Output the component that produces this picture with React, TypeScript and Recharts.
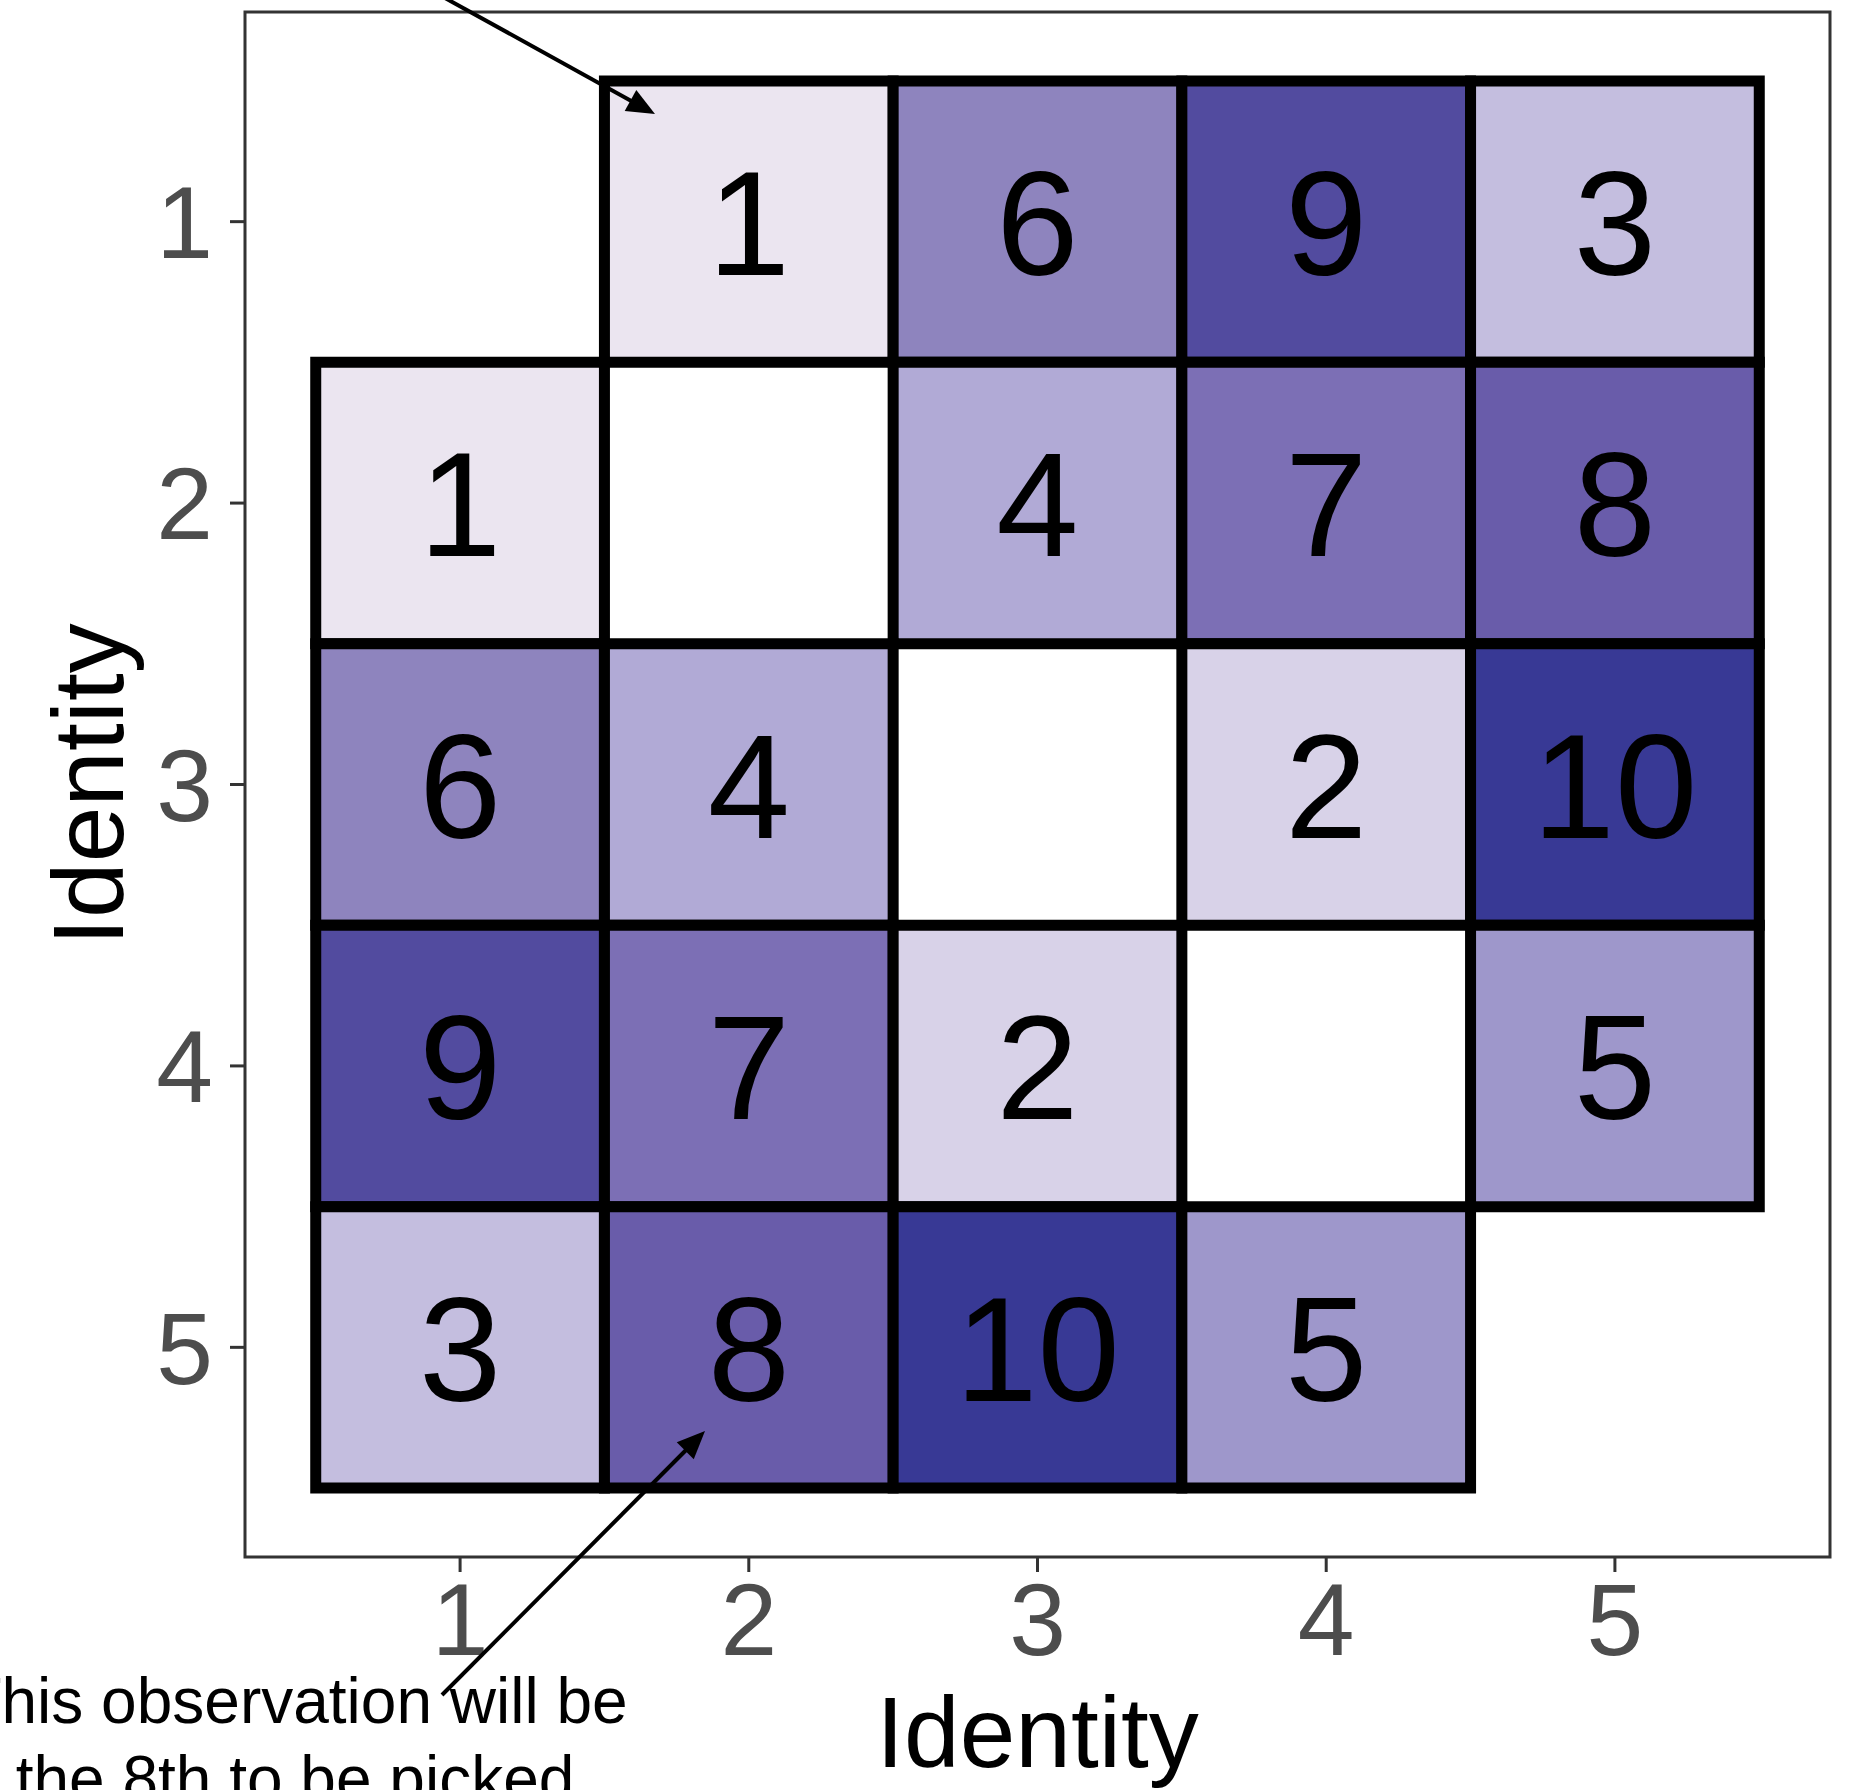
import { type FC } from "react";
import {
  ScatterChart,
  XAxis,
  YAxis,
  Scatter,
  ReferenceArea,
} from "recharts";

// identities on both axes
const identities = [1, 2, 3, 4, 5];

// pair values, one array per row (y = identity), null on the diagonal
const row1 = [null, 1, 6, 9, 3];
const row2 = [1, null, 4, 7, 8];
const row3 = [6, 4, null, 2, 10];
const row4 = [9, 7, 2, null, 5];
const row5 = [3, 8, 10, 5, null];
const rows = [row1, row2, row3, row4, row5];

// fill for values 1..10
const purples = [
  "#EBE5F0",
  "#D8D2E8",
  "#C4BEDF",
  "#B1AAD6",
  "#9E97CB",
  "#8E84BE",
  "#7C6FB5",
  "#695CAA",
  "#524B9F",
  "#383995",
];

const cells = rows.flatMap((row, i) =>
  row
    .map((v, j) => ({ x: identities[j], y: identities[i], v }))
    .filter((c) => c.v !== null)
) as { x: number; y: number; v: number }[];

const W = 1850;
const H = 1790;
const lo = 0.255;
const hi = 5.745;
const font = '"Liberation Sans", Arial, Helvetica, sans-serif';

const Arrow: FC<{ from: [number, number]; to: [number, number] }> = ({
  from,
  to,
}) => {
  const dx = to[0] - from[0];
  const dy = to[1] - from[1];
  const len = Math.hypot(dx, dy);
  const ux = dx / len;
  const uy = dy / len;
  const L = 28;
  const hw = 12;
  const bx = to[0] - ux * L;
  const by = to[1] - uy * L;
  const pts = [
    [to[0], to[1]],
    [bx - uy * hw, by + ux * hw],
    [bx + uy * hw, by - ux * hw],
  ]
    .map((p) => p.join(","))
    .join(" ");
  return (
    <g>
      <line
        x1={from[0]}
        y1={from[1]}
        x2={bx + ux * 4}
        y2={by + uy * 4}
        stroke="#000"
        strokeWidth={4}
      />
      <polygon points={pts} fill="#000" />
    </g>
  );
};

const CellLabel = (props: any) => (
  <text
    x={props.cx}
    y={props.cy}
    dy="0.36em"
    textAnchor="middle"
    fontSize={148}
    fontFamily={font}
    fill="#000"
  >
    {props.payload.v}
  </text>
);

export default function App() {
  return (
    <div
      style={{
        position: "absolute",
        left: 0,
        top: 0,
        width: W,
        height: H,
        background: "#fff",
        fontFamily: font,
      }}
    >
      <ScatterChart
        width={W}
        height={H}
        margin={{ top: 12, right: 20, bottom: 0, left: 0 }}
      >
        <XAxis
          type="number"
          dataKey="x"
          domain={[lo, hi]}
          ticks={identities}
          allowDataOverflow
          height={233}
          axisLine={false}
          tickSize={15}
          tickMargin={11}
          tickLine={{ stroke: "#333", strokeWidth: 3 }}
          tick={{ fontSize: 102, fill: "#4D4D4D", fontFamily: font }}
          label={{
            value: "Identity",
            position: "insideBottom",
            offset: 23,
            fontSize: 100,
            fill: "#000",
            fontFamily: font,
          }}
        />
        <YAxis
          type="number"
          dataKey="y"
          domain={[lo, hi]}
          ticks={identities}
          reversed
          allowDataOverflow
          width={245}
          axisLine={false}
          tickSize={15}
          tickMargin={17}
          tickLine={{ stroke: "#333", strokeWidth: 3 }}
          tick={{ fontSize: 102, fill: "#4D4D4D", fontFamily: font }}
          label={{
            value: "Identity",
            angle: -90,
            position: "insideLeft",
            offset: 87,
            fontSize: 100,
            fill: "#000",
            fontFamily: font,
            style: { textAnchor: "middle" },
          }}
        />
        <ReferenceArea
          x1={lo}
          x2={hi}
          y1={lo}
          y2={hi}
          fill="none"
          stroke="#333"
          strokeWidth={3}
        />
        {cells.map((c) => (
          <ReferenceArea
            key={`${c.x}-${c.y}`}
            x1={c.x - 0.5}
            x2={c.x + 0.5}
            y1={c.y - 0.5}
            y2={c.y + 0.5}
            fill={purples[c.v - 1]}
            fillOpacity={1}
            stroke="#000"
            strokeWidth={11}
          />
        ))}
        <Scatter
          data={cells}
          shape={CellLabel}
          isAnimationActive={false}
        />
      </ScatterChart>
      <svg
        width={W}
        height={H}
        style={{ position: "absolute", left: 0, top: 0, pointerEvents: "none" }}
      >
        <Arrow from={[445, -2]} to={[655, 114]} />
        <Arrow from={[442, 1695]} to={[705, 1431]} />
        <text
          x={295}
          y={1723}
          textAnchor="middle"
          fontSize={64}
          fontFamily={font}
          fill="#000"
        >
          This observation will be
        </text>
        <text
          x={295}
          y={1801}
          textAnchor="middle"
          fontSize={64}
          fontFamily={font}
          fill="#000"
        >
          the 8th to be picked
        </text>
      </svg>
    </div>
  );
}
